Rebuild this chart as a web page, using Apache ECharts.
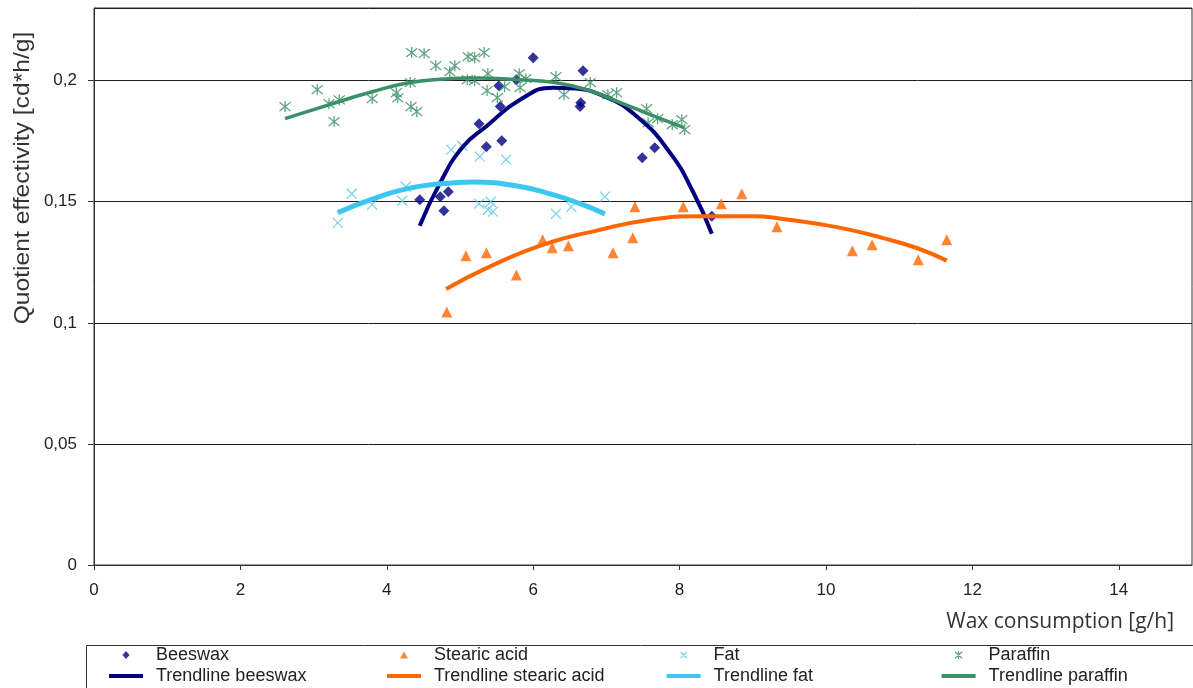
<!DOCTYPE html>
<html><head><meta charset="utf-8">
<script src="https://cdn.jsdelivr.net/npm/echarts@6/dist/echarts.min.js"></script>
<style>html,body{margin:0;padding:0;background:#fff}#c{width:1193px;height:688px}</style>
</head><body><div id="c"></div>
<script>
// ---- data (x: wax consumption g/h, y: quotient effectivity cd*h/g) ----
const beeswax = [[4.45,0.1508],[4.73,0.1521],[4.84,0.1541],[4.78,0.1463],[5.26,0.1822],[5.36,0.1727],[5.53,0.1979],[5.55,0.1893],[5.57,0.1752],[5.77,0.2004],[6.00,0.2095],[6.68,0.2041],[6.65,0.1909],[6.64,0.1893],[7.49,0.1682],[7.66,0.1723],[8.44,0.1440]];
const stearic = [[4.82,0.1045],[5.08,0.1277],[5.36,0.1289],[5.77,0.1198],[6.13,0.1343],[6.26,0.1310],[6.48,0.1318],[7.09,0.1289],[7.36,0.1351],[7.39,0.1479],[8.05,0.1479],[8.57,0.1492],[8.85,0.1533],[9.33,0.1397],[10.36,0.1298],[10.63,0.1322],[11.26,0.1260],[11.65,0.1343]];
const fat = [[3.33,0.1413],[3.52,0.1533],[3.80,0.1488],[4.26,0.1562],[4.21,0.1504],[4.88,0.1715],[5.03,0.1731],[5.27,0.1686],[5.63,0.1674],[5.26,0.1492],[5.42,0.1500],[5.38,0.1467],[5.45,0.1459],[6.31,0.1450],[6.52,0.1479],[6.98,0.1521]];
const paraffin = [[2.61,0.1893],[3.05,0.1963],[3.21,0.1905],[3.35,0.1921],[3.28,0.1831],[3.80,0.1926],[4.13,0.1950],[4.15,0.1929],[4.34,0.2116],[4.51,0.2112],[4.33,0.1893],[4.41,0.1872],[4.32,0.1992],[4.67,0.2062],[4.86,0.2037],[4.93,0.2062],[5.11,0.2099],[5.20,0.2095],[5.33,0.2116],[5.10,0.2004],[5.20,0.2000],[5.38,0.2029],[5.37,0.1959],[5.51,0.1930],[5.61,0.1975],[5.81,0.2029],[5.90,0.2008],[5.82,0.1971],[6.31,0.2017],[6.42,0.1942],[6.78,0.1992],[7.02,0.1942],[7.14,0.1950],[7.55,0.1884],[7.57,0.1826],[7.70,0.1843],[7.90,0.1818],[8.03,0.1839],[8.07,0.1798]];

const trendBeeswax = [[4.45,0.1401],[4.73,0.1579],[5.04,0.1727],[5.37,0.1814],[5.82,0.1921],[6.27,0.1971],[6.50,0.1969],[6.95,0.1938],[7.42,0.1851],[7.87,0.1702],[8.19,0.1537],[8.44,0.1368]];
const trendStearic = [[4.81,0.1140],[5.37,0.1227],[6.13,0.1322],[6.91,0.1384],[7.60,0.1426],[8.28,0.1440],[9.00,0.1440],[9.41,0.1429],[9.88,0.1409],[10.33,0.1384],[10.78,0.1350],[11.24,0.1309],[11.65,0.1257]];
const trendFat = [[3.33,0.1455],[3.81,0.1512],[4.28,0.1554],[4.73,0.1574],[5.18,0.1581],[5.82,0.1563],[6.27,0.1529],[6.64,0.1492],[6.98,0.1450]];
const trendParaffin = [[2.61,0.1843],[3.13,0.1893],[3.81,0.1955],[4.28,0.1990],[4.73,0.2006],[5.18,0.2011],[5.82,0.2004],[6.27,0.1993],[6.73,0.1963],[7.19,0.1909],[7.64,0.1855],[8.06,0.1806]];

const xTicks = [0,2,4,6,8,10,12,14];
const yTicks = [0,0.05,0.1,0.15,0.2];

// ---- styling ----
const C_BEE = '#000080', C_STE = '#ff6600', C_FAT = '#3cc6f0', C_FATM = '#55c5ea', C_PAR = '#3a9068';
const FONT = '"Liberation Sans", Arial, sans-serif';
const X_SYM = 'path://M0,0L10,10M10,0L0,10';
const STAR_SYM = 'path://M1,1L9,9M9,1L1,9M5,0L5,10';
// legend icons: 34x8 box, extreme degenerate segments fix the bounding box
const BOX = 'M0,0L0,0.01M34,8L34,7.99';
const LG_DIAMOND = 'path://' + BOX + 'M17,0L20.5,4L17,8L13.5,4Z';
const LG_TRI = 'path://' + BOX + 'M17,0.5L21,7.5L13,7.5Z';
const LG_X = 'path://' + BOX + 'M14,1L20,7M20,1L14,7';
const LG_STAR = 'path://' + BOX + 'M13.5,0.8L20.5,7.2M20.5,0.8L13.5,7.2M17,0L17,8';
const LG_LINE = 'path://' + BOX + 'M0,2L34,2L34,6L0,6Z';

const chart = echarts.init(document.getElementById('c'), null, {renderer:'canvas'});
const legendCommon = {
  orient:'vertical', top:646, height:60, itemWidth:34, itemHeight:8, itemGap:3, padding:0,
  selectedMode:false, symbolKeepAspect:true,
  textStyle:{fontFamily:FONT, fontSize:18, lineHeight:18, color:'#222', padding:[0,0,0,8]}
};
function lgItem(name, icon, extra){ return Object.assign({name:name, icon:icon}, extra || {}); }
chart.setOption({
  animation:false,
  backgroundColor:'#fff',
  grid:{left:94, top:8, right:1, bottom:123, outerBoundsMode:'none', containLabel:false,
        show:true, borderColor:'#333', borderWidth:1, backgroundColor:'transparent'},
  xAxis:{
    type:'value', min:0, max:15, interval:2,
    axisLine:{show:true, lineStyle:{color:'#333', width:1}},
    axisTick:{show:true, length:5, lineStyle:{color:'#333'}},
    splitLine:{show:false},
    axisLabel:{showMaxLabel:false, margin:17, fontFamily:FONT, fontSize:17, color:'#222',
      formatter:v => xTicks.includes(v) ? String(v) : ''}
  },
  yAxis:{
    type:'value', min:0, max:0.23, interval:0.05,
    axisLine:{show:true, lineStyle:{color:'#333', width:1}},
    axisTick:{show:true, length:6, lineStyle:{color:'#333'}},
    splitLine:{show:true, lineStyle:{color:'#1e1e1e', width:1}},
    axisLabel:{showMaxLabel:false, margin:17, fontFamily:FONT, fontSize:17, color:'#222',
      formatter:v => { const t = yTicks.find(k => Math.abs(k - v) < 1e-9); return t === undefined ? '' : String(t).replace('.', ','); }}
  },
  legend:[
    Object.assign({left:109, data:[lgItem('Beeswax', LG_DIAMOND), lgItem('Trendline beeswax', LG_LINE, {itemStyle:{color:C_BEE, borderWidth:0}})]}, legendCommon),
    Object.assign({left:387, data:[lgItem('Stearic acid', LG_TRI), lgItem('Trendline stearic acid', LG_LINE, {itemStyle:{color:C_STE, borderWidth:0}})]}, legendCommon),
    Object.assign({left:666, data:[lgItem('Fat', LG_X, {itemStyle:{borderWidth:1.2, borderColor:C_FATM, color:'transparent'}}), lgItem('Trendline fat', LG_LINE, {itemStyle:{color:C_FAT, borderWidth:0}})]}, legendCommon),
    Object.assign({left:941, data:[lgItem('Paraffin', LG_STAR, {itemStyle:{borderWidth:1.2, borderColor:C_PAR, color:'transparent'}}), lgItem('Trendline paraffin', LG_LINE, {itemStyle:{color:C_PAR, borderWidth:0}})]}, legendCommon)
  ],
  graphic:[
    {type:'rect', left:84, top:643, shape:{width:1200, height:60}, style:{fill:'none', stroke:'#333', lineWidth:1}, silent:true},
    {type:'text', x:23, y:178, rotation:Math.PI/2, scaleX:1.12, silent:true,
     style:{text:'Quotient effectivity [cd*h/g]', font:'22px ' + FONT, fill:'#333', align:'center', verticalAlign:'middle'}},
    {type:'text', x:1174, y:622, silent:true,
     style:{text:'Wax consumption [g/h]', font:'21px "Open Sans", sans-serif', fill:'#333', align:'right', verticalAlign:'middle'}}
  ],
  series:[
    {name:'Beeswax', type:'scatter', data:beeswax, symbol:'diamond', symbolSize:11, itemStyle:{color:C_BEE}, z:2},
    {name:'Stearic acid', type:'scatter', data:stearic, symbol:'triangle', symbolSize:11, itemStyle:{color:C_STE}, z:2},
    {name:'Fat', type:'scatter', data:fat, symbol:X_SYM, symbolSize:10, itemStyle:{color:'transparent', borderColor:C_FATM, borderWidth:1.2}, z:2},
    {name:'Paraffin', type:'scatter', data:paraffin, symbol:STAR_SYM, symbolSize:11, itemStyle:{color:'transparent', borderColor:C_PAR, borderWidth:1.3}, z:2},
    {name:'Trendline beeswax', type:'line', data:trendBeeswax, smooth:true, symbol:'none', lineStyle:{color:C_BEE, width:4}, itemStyle:{color:C_BEE}, z:3},
    {name:'Trendline stearic acid', type:'line', data:trendStearic, smooth:true, symbol:'none', lineStyle:{color:C_STE, width:4}, itemStyle:{color:C_STE}, z:3},
    {name:'Trendline fat', type:'line', data:trendFat, smooth:true, symbol:'none', lineStyle:{color:C_FAT, width:5}, itemStyle:{color:C_FAT}, z:3},
    {name:'Trendline paraffin', type:'line', data:trendParaffin, smooth:true, symbol:'none', lineStyle:{color:C_PAR, width:3.5}, itemStyle:{color:C_PAR}, z:3}
  ]
});
</script></body></html>
